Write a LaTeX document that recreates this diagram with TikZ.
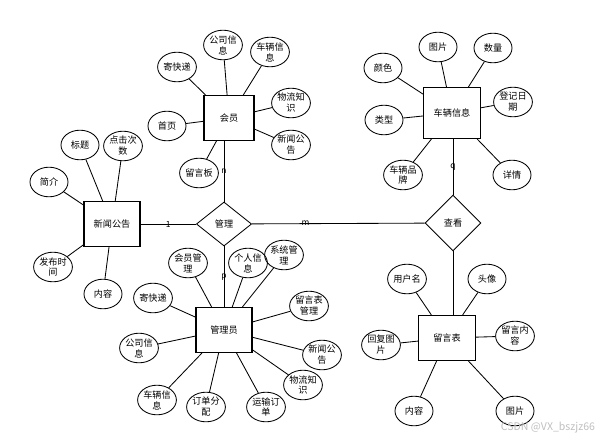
\documentclass[tikz,border=0pt]{standalone}
\usepackage{fontspec}
\setmainfont{Noto Sans CJK SC}
\usetikzlibrary{shapes.geometric}

\begin{document}
\begin{tikzpicture}[x=0.025cm, y=-0.025cm, font=\fontsize{6.5}{7.8}\selectfont,
  entity/.style={draw, line width=0.9pt, minimum width=1.4cm, minimum height=1.12cm, inner sep=0pt},
  attr/.style={draw, ellipse, line width=0.6pt, minimum width=0.95cm, minimum height=0.74cm, inner sep=0pt, align=center},
  rel/.style={draw, diamond, line width=0.6pt, inner sep=0pt, minimum width=1.38cm, minimum height=1.1cm},
  link/.style={line width=0.6pt},
  card/.style={font=\fontsize{6}{7}\selectfont, inner sep=0pt}]
\useasboundingbox (0,0) rectangle (602,439);
% entities
\node[entity, minimum width=1.25cm] (hy)  at (229,118) {会员};
\node[entity, minimum width=1.42cm, minimum height=1.27cm] (cl) at (452,113) {车辆信息};
\node[entity] (xw)  at (112,224) {新闻公告};
\node[entity] (gly) at (224,330) {管理员};
\node[entity, minimum width=1.42cm] (lyb) at (447,338) {留言表};
% relations
\node[rel] (gl) at (224,224) {管理};
\node[rel, minimum width=1.4cm, minimum height=1.4cm] (ck) at (453,223) {查看};
% attributes of 会员
\foreach \n/\x/\y/\t in {hy1/223/45/{公司信\\息}, hy2/270/52/{车辆信\\息}, hy3/177/67/寄快递,
    hy4/291/103/{物流知\\识}, hy5/291/145/{新闻公\\告}, hy6/167/126/首页, hy7/199/173/留言板}{
  \node[attr] (\n) at (\x,\y) {\t};
  \draw[link] (hy) -- (\n);
}
% attributes of 车辆信息
\foreach \n/\x/\y/\t in {cl1/438/47/图片, cl2/493/48/数量, cl3/383/68/颜色, cl4/513/102/{登记日\\期},
    cl5/384/120/类型, cl6/403/175/{车辆品\\牌}, cl7/512/175/详情}{
  \node[attr] (\n) at (\x,\y) {\t};
  \draw[link] (cl) -- (\n);
}
% attributes of 新闻公告
\foreach \n/\x/\y/\t in {xw1/80/145/标题, xw2/123/146/{点击次\\数}, xw3/49/182/简介,
    xw4/53/267/{发布时\\间}, xw5/103/294/内容}{
  \node[attr] (\n) at (\x,\y) {\t};
  \draw[link] (xw) -- (\n);
}
% attributes of 管理员
\foreach \n/\x/\y/\t in {gy1/188/263/{会员管\\理}, gy2/248/263/{个人信\\息}, gy3/284/255/{系统管\\理},
    gy4/153/298/寄快递, gy5/309/306/{留言表\\管理}, gy6/139/348/{公司信\\息}, gy7/322/355/{新闻公\\告},
    gy8/303/385/{物流知\\识}, gy9/157/400/{车辆信\\息}, gy10/206/407/{订单分\\配}, gy11/266/407/{运输订\\单}}{
  \node[attr] (\n) at (\x,\y) {\t};
  \draw[link] (gly) -- (\n);
}
% attributes of 留言表
\foreach \n/\x/\y/\t in {ly1/407/279/用户名, ly2/487/279/头像, ly3/381/345/{回复图\\片},
    ly4/515/336/{留言内\\容}, ly5/414/411/内容, ly6/515/411/图片}{
  \node[attr] (\n) at (\x,\y) {\t};
  \draw[link] (lyb) -- (\n);
}
% relationships
\draw[link] (gl.north) -- (gl.north |- hy.south) node[card, midway] {n};
\draw[link] (xw) -- (gl) node[card, midway] {1};
\draw[link] (gl) -- (ck) node[card, pos=0.31] {m};
\draw[link] (gl) -- (gly) node[card, midway] {p};
\draw[link] (ck.north) -- (ck.north |- cl.south) node[card, midway] {q};
\draw[link] (ck.south) -- (ck.south |- lyb.north);
% watermark
\node[text=black!25, font=\fontsize{7.5}{8}\selectfont] (wm) at (548,428) {CSDN @VX\_bszjz66};
\end{tikzpicture}
\end{document}
